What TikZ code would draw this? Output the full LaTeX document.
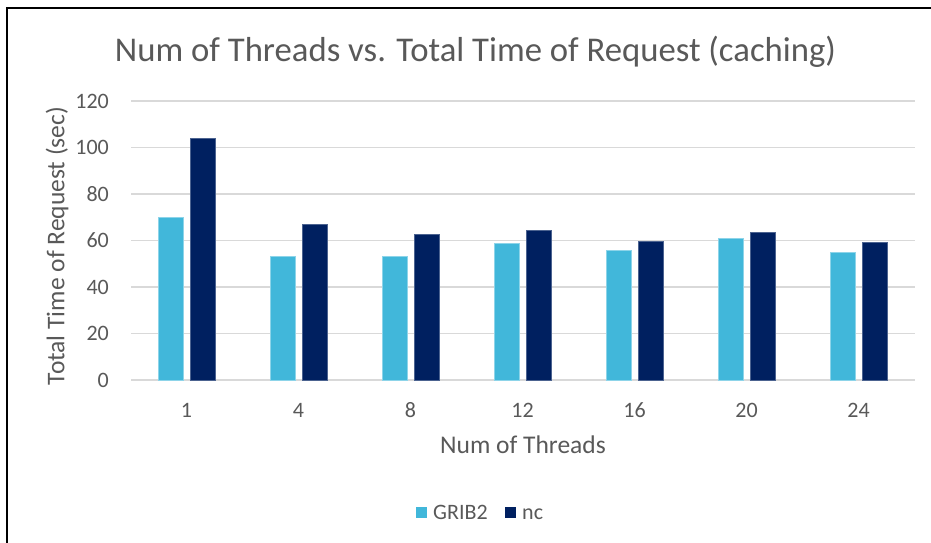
\documentclass[tikz,border=0pt]{standalone}
\usepackage{fontspec}
\setmainfont{Carlito}
\definecolor{txtgray}{HTML}{595959}
\definecolor{gridgray}{HTML}{D9D9D9}
\definecolor{gribblue}{HTML}{41B7DA}
\definecolor{ncnavy}{HTML}{002060}
\tikzset{
  gridline/.style={draw=gridgray, line width=1.3pt},
  gribbar/.style={fill=gribblue, draw=gribblue!60!white, line width=0.6pt},
  ncbar/.style={fill=ncnavy, draw=ncnavy!70!white, line width=0.6pt},
  ticklabel/.style={text=txtgray, inner sep=0pt, font=\fontsize{22}{25}\selectfont},
  axistitle/.style={text=txtgray, inner sep=0pt, font=\fontsize{25.5}{29}\selectfont},
  charttitle/.style={text=txtgray, inner sep=0pt, font=\fontsize{34.7}{40}\selectfont},
  legendtext/.style={text=txtgray, inner sep=0pt, font=\fontsize{22}{25}\selectfont},
  frameline/.style={draw=black, line width=2pt}
}
\begin{document}
\begin{tikzpicture}[x=1pt, y=-1pt]
\useasboundingbox (0,0) rectangle (931,543);
\fill[white] (0,0) rectangle (931,543);
% chart frame (left and top edges)
\draw[frameline] (6.5,543) -- (6.5,8.5) -- (931,8.5);

% title
\node[charttitle, anchor=base] (title) at (475.5,61) {Num of Threads vs. Total Time of Request (caching)};

% horizontal grid lines and value labels (0..120, step 20)
\foreach \v [count=\k] in {0,20,...,120} {
  \pgfmathsetmacro{\yy}{380-\v*2.325}
  \draw[gridline] (131,\yy) -- (915,\yy);
  \node[ticklabel, anchor=east] (ytick\k) at (109,\yy) {\v};
}

% bars: category label / GRIB2 / nc
\foreach \lab/\g/\n [count=\i from 0] in {1/70/104, 4/53/67, 8/53.3/62.7, 12/58.8/64.6, 16/55.8/59.5, 20/60.8/63.6, 24/55/59.3} {
  \pgfmathsetmacro{\cx}{186.5+112*\i}
  \pgfmathsetmacro{\gy}{380-\g*2.325}
  \pgfmathsetmacro{\ny}{380-\n*2.325}
  \draw[gribbar] (\cx-28.5,380) rectangle (\cx-3.5,\gy);
  \draw[ncbar] (\cx+3.5,380) rectangle (\cx+28.5,\ny);
  \node[ticklabel] (xtick\i) at (\cx,410) {\lab};
}

% axis titles
\node[axistitle, anchor=base] (xtitle) at (523,453) {Num of Threads};
\node[axistitle, rotate=90, anchor=center] (ytitle) at (57,246) {Total Time of Request (sec)};

% legend
\fill[gribblue] (416,506.5) rectangle (427,517.5);
\node[legendtext, anchor=base west] (leggrib) at (433,519) {GRIB2};
\fill[ncnavy] (505,506.5) rectangle (516,517.5);
\node[legendtext, anchor=base west] (legnc) at (522,519) {nc};
\end{tikzpicture}
\end{document}
